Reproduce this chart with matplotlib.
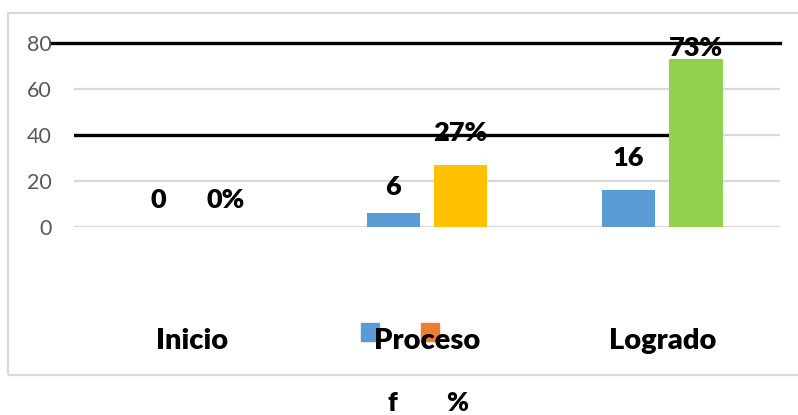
import matplotlib

matplotlib.use("Agg")
import matplotlib.pyplot as plt
from matplotlib.patches import Rectangle

categories = ["Inicio", "Proceso", "Logrado"]
freq = [0, 6, 16]
pct = [0, 27, 73]
series_names = ["f", "%"]
yticks = [0, 20, 40, 60, 80]

blue = "#5B9BD5"
pct_colors = ["#FFC000", "#FFC000", "#92D050"]
legend_colors = ["#5B9BD5", "#ED7D31"]
grid_c = "#D9D9D9"

plt.rcParams["font.family"] = ["Lato", "DejaVu Sans"]

fig = plt.figure(figsize=(7.98, 4.15), dpi=100)
W, H = 798, 415


def fx(px):
    return px / W


def fy(py):
    return 1 - py / H


# chart area frame (the right edge runs off the picture)
fig.patches.append(Rectangle((fx(8), fy(375)), 1.0, fy(13) - fy(375),
                             transform=fig.transFigure, fill=False,
                             edgecolor=grid_c, lw=1.6))

ax = fig.add_axes([fx(74), fy(227), fx(780) - fx(74), fy(43) - fy(227)])
ax.set_xlim(-0.5, 2.5)
ax.set_ylim(0, 80)
for s in ax.spines.values():
    s.set_visible(False)
ax.set_yticks(yticks)
ax.set_yticklabels([str(v) for v in yticks], fontsize=15.5, color="#595959")
ax.tick_params(axis="y", length=0, pad=16)
ax.set_xticks([])
for v in yticks:
    ax.axhline(v, color=grid_c, lw=1.6, zorder=0)

w, off = 0.226, 0.143
xs = list(range(len(categories)))
ax.bar([x - off for x in xs], freq, w, color=blue, zorder=2)
ax.bar([x + off for x in xs], pct, w, color=pct_colors, zorder=2)

# thick black reference lines
ax.plot([-0.594, 2.5], [80, 80], color="black", lw=2.4, clip_on=False, zorder=3)
ax.plot([-0.5, 2 + off - w / 2], [40, 40], color="black", lw=2.4, zorder=1)

bold = "heavy"
lab_kw = dict(textcoords="offset points", ha="center", va="center",
              fontsize=19.5, fontweight=bold, color="black", zorder=5)
f_off = [27, 26, 32]
p_off = [27, 32, 11]
for i in xs:
    ax.annotate(str(freq[i]), (i - off, freq[i]), xytext=(0, f_off[i] * 0.72), **lab_kw)
    ax.annotate(f"{pct[i]}%", (i + off, pct[i]), xytext=(0, p_off[i] * 0.72), **lab_kw)
    ax.annotate(categories[i], (i, 0), xytext=(0, -114 * 0.72),
                textcoords="offset points", ha="center", va="center",
                fontsize=21, fontweight=bold, annotation_clip=False, zorder=6)

# legend markers sit in the chart, their labels below the frame
for k, (name, c) in enumerate(zip(series_names, legend_colors)):
    x0 = 361 + 60 * k
    ax.add_patch(Rectangle((fx(x0), fy(341)), fx(18), fy(323) - fy(341),
                           transform=fig.transFigure, color=c, zorder=1,
                           clip_on=False))
    fig.text(fx(392 + 65 * k), fy(403), name, ha="center", va="center",
             fontsize=19, fontweight=bold)

fig.savefig("out.png", dpi=100)
